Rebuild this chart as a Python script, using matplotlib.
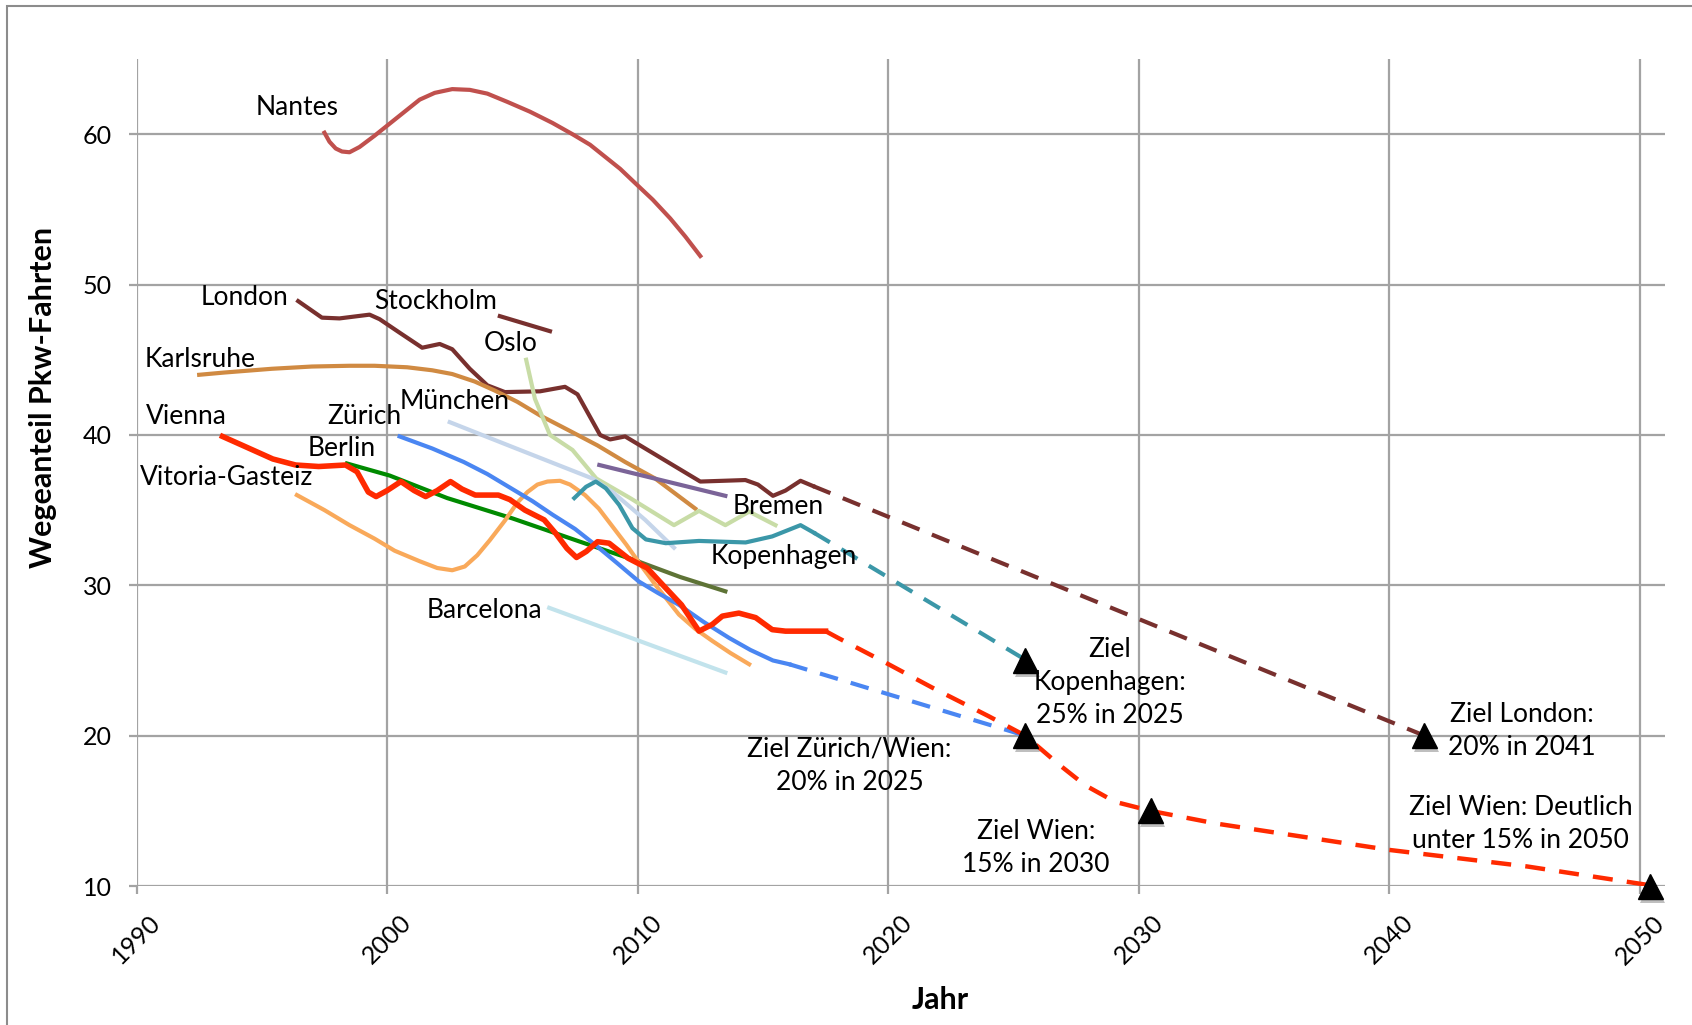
import matplotlib
matplotlib.use("Agg")
import matplotlib.pyplot as plt
import matplotlib.patheffects as pe
from matplotlib.patches import Rectangle

plt.rcParams['font.family'] = ['Lato', 'DejaVu Sans']

# --- data (year, share of car trips in %) ---
nantes_x = [1997.5, 1997.7, 1997.95, 1998.2, 1998.5, 1998.9, 1999.5, 2000.1, 2000.7, 2001.3, 2001.9, 2002.6,
            2003.3, 2004.0, 2004.8, 2005.7, 2006.6, 2007.4, 2008.1, 2008.7, 2009.3, 2009.9, 2010.6, 2011.3,
            2011.9, 2012.5]
nantes_y = [60.1, 59.5, 59.05, 58.85, 58.8, 59.15, 59.9, 60.7, 61.5, 62.3, 62.75, 63.0,
            62.95, 62.7, 62.15, 61.5, 60.75, 60.0, 59.3, 58.5, 57.7, 56.75, 55.65, 54.4,
            53.2, 51.9]

london_x = [1996.45, 1997.4, 1998.1, 1999.3, 1999.7, 2000.5, 2001.4, 2002.1, 2002.6, 2003.3, 2004.0, 2004.7,
            2006.1, 2007.1, 2007.6, 2008.5, 2008.9, 2009.5, 2010.3, 2011.6, 2012.5, 2014.3, 2014.8, 2015.4,
            2015.9, 2016.5, 2017.0]
london_y = [48.9, 47.8, 47.75, 48.0, 47.7, 46.8, 45.8, 46.05, 45.7, 44.4, 43.3, 42.85,
            42.9, 43.2, 42.7, 40.0, 39.7, 39.9, 39.1, 37.8, 36.9, 37.0, 36.7, 35.95,
            36.3, 36.95, 36.6]
london_goal_x = [2017.0, 2041.4]
london_goal_y = [36.6, 20.0]

stockholm_x = [2004.5, 2006.5]
stockholm_y = [47.9, 46.9]

karlsruhe_x = [1992.5, 1993.5, 1995.4, 1997.0, 1998.5, 1999.5, 2000.8, 2001.8, 2002.6, 2003.5, 2004.3,
               2005.2, 2006.1, 2007.2, 2008.4, 2009.5, 2010.7, 2011.5, 2012.3]
karlsruhe_y = [44.0, 44.15, 44.4, 44.55, 44.6, 44.6, 44.5, 44.3, 44.05, 43.55, 42.95,
               42.2, 41.3, 40.35, 39.3, 38.2, 37.1, 36.1, 35.1]

oslo_x = [2005.55, 2005.9, 2006.5, 2007.4, 2008.35, 2009.7, 2011.45, 2012.45, 2013.5, 2014.45, 2015.5]
oslo_y = [45.0, 42.4, 40.0, 39.0, 37.1, 35.8, 34.0, 34.95, 34.0, 34.9, 34.0]

muenchen_x = [2002.5, 2005.0, 2008.2, 2009.0, 2010.3, 2011.45]
muenchen_y = [40.85, 39.2, 37.1, 36.2, 34.35, 32.5]

zuerich_x = [2000.5, 2001.8, 2003.06, 2004.0, 2005.0, 2005.8, 2006.6, 2007.5, 2008.3, 2009.2, 2010.05,
             2010.8, 2011.65, 2012.6, 2013.65, 2014.5, 2015.4, 2016.05]
zuerich_y = [39.9, 39.1, 38.2, 37.4, 36.4, 35.6, 34.7, 33.75, 32.7, 31.45, 30.25,
             29.5, 28.7, 27.6, 26.5, 25.7, 25.0, 24.75]
zuerich_goal_x = [2016.05, 2025.47]
zuerich_goal_y = [24.75, 20.0]

vienna_x = [1993.43, 1994.37, 1995.44, 1996.35, 1997.27, 1998.34, 1998.8, 1999.25, 1999.56, 2000.0,
            2000.55, 2001.08, 2001.54, 2002.0, 2002.53, 2002.99, 2003.52, 2004.44, 2004.9, 2005.5,
            2006.27, 2006.73, 2007.18, 2007.56, 2007.95, 2008.4, 2008.86, 2009.62, 2010.38, 2010.99,
            2011.75, 2012.45, 2012.98, 2013.38, 2014.04, 2014.71, 2015.37, 2015.9, 2017.5]
vienna_y = [39.9, 39.2, 38.4, 38.0, 37.9, 38.0, 37.55, 36.2, 35.9, 36.3,
            36.9, 36.3, 35.9, 36.3, 36.9, 36.4, 36.0, 36.0, 35.7, 35.0,
            34.35, 33.45, 32.45, 31.85, 32.25, 32.9, 32.8, 31.8, 31.15, 30.05,
            28.7, 26.95, 27.4, 27.95, 28.15, 27.85, 27.05, 26.95, 26.95]
vienna_goal_x = [2017.5, 2018.0, 2019.9, 2021.75, 2024.0, 2025.47, 2026.8, 2027.86, 2029.05, 2030.47,
                 2033.1, 2040.0, 2045.5, 2050.4]
vienna_goal_y = [26.95, 26.5, 24.85, 23.2, 21.3, 20.0, 18.1, 16.7, 15.6, 15.0,
                 14.15, 12.4, 11.3, 10.05]

kopenhagen_x = [2007.47, 2007.94, 2008.33, 2008.73, 2009.26, 2009.79, 2010.33, 2011.12, 2012.45, 2014.31,
                2015.37, 2016.5, 2017.03]
kopenhagen_y = [35.8, 36.55, 36.9, 36.45, 35.35, 33.8, 33.05, 32.8, 32.95, 32.85,
                33.25, 34.0, 33.5]
kopenhagen_goal_x = [2017.03, 2025.47]
kopenhagen_goal_y = [33.5, 25.05]

bremen_x = [2008.47, 2013.5]
bremen_y = [38.0, 35.95]

berlin_x = [1998.4, 2000.1, 2002.4, 2005.0, 2007.7, 2010.0]
berlin_y = [38.1, 37.3, 35.8, 34.45, 32.9, 31.6]
berlin2_x = [2010.0, 2011.7, 2013.5]
berlin2_y = [31.6, 30.55, 29.6]

vitoria_x = [1996.4, 1997.5, 1998.5, 1999.5, 2000.3, 2001.3, 2002.0, 2002.6, 2003.1, 2003.6, 2004.1,
             2004.7, 2005.2, 2005.6, 2006.0, 2006.4, 2006.9, 2007.3, 2007.9, 2008.45, 2009.0, 2009.55,
             2010.1, 2010.7, 2011.2, 2011.65, 2012.3, 2012.98, 2013.7, 2014.45]
vitoria_y = [36.0, 35.0, 34.0, 33.1, 32.3, 31.6, 31.15, 31.0, 31.25, 32.0, 33.0,
             34.3, 35.5, 36.2, 36.7, 36.9, 36.95, 36.7, 36.0, 35.1, 33.9, 32.7,
             31.4, 30.05, 29.0, 28.05, 27.1, 26.3, 25.5, 24.75]

barcelona_x = [2006.47, 2013.5]
barcelona_y = [28.5, 24.2]

target_x = [2025.47, 2025.47, 2030.47, 2041.4, 2050.42]
target_y = [25.0, 20.0, 15.0, 20.0, 10.0]

city_labels = ['Nantes', 'London', 'Stockholm', 'Oslo', 'Karlsruhe', 'Vienna', 'Zürich', 'München',
               'Berlin', 'Vitoria-Gasteiz', 'Bremen', 'Kopenhagen', 'Barcelona']
city_label_x = [1996.4, 1994.3, 2001.95, 2004.95, 1992.55, 1992.0, 1999.1, 2002.7,
                1998.2, 1993.6, 2015.6, 2015.85, 2003.9]
city_label_y = [61.8, 49.15, 48.9, 46.1, 45.0, 41.2, 41.2, 42.2,
                39.1, 37.2, 35.25, 31.9, 28.3]

goal_labels = ['Ziel\nKopenhagen:\n25% in 2025', 'Ziel Zürich/Wien:\n20% in 2025', 'Ziel Wien:\n15% in 2030',
               'Ziel London:\n20% in 2041', 'Ziel Wien: Deutlich\nunter 15% in 2050']
goal_label_x = [2028.85, 2018.45, 2025.9, 2045.3, 2045.25]
goal_label_y = [23.55, 18.0, 12.5, 20.3, 14.15]

years = [1990, 2000, 2010, 2020, 2030, 2040, 2050]
shares = [10, 20, 30, 40, 50, 60]

fig = plt.figure(figsize=(16.92, 10.25), dpi=100)
ax = fig.add_axes([0.0807, 0.1356, 0.9033, 0.8068])

lw = 3.0
dash = (4.5, 3.2)
ax.plot(nantes_x, nantes_y, color='#C0504D', lw=lw)
ax.plot(london_x, london_y, color='#78302E', lw=lw)
ax.plot(london_goal_x, london_goal_y, color='#78302E', lw=lw, dashes=dash)
ax.plot(stockholm_x, stockholm_y, color='#78302E', lw=lw)
ax.plot(karlsruhe_x, karlsruhe_y, color='#D08A42', lw=lw)
ax.plot(oslo_x, oslo_y, color='#C8DCA6', lw=lw)
ax.plot(muenchen_x, muenchen_y, color='#C5D5EA', lw=lw)
ax.plot(barcelona_x, barcelona_y, color='#C2E3EC', lw=lw)
ax.plot(bremen_x, bremen_y, color='#7B6498', lw=lw)
ax.plot(berlin_x, berlin_y, color='#008A00', lw=lw)
ax.plot(berlin2_x, berlin2_y, color='#5E7336', lw=lw)
ax.plot(vitoria_x, vitoria_y, color='#F9A95A', lw=lw)
ax.plot(kopenhagen_x, kopenhagen_y, color='#3B97A8', lw=lw)
ax.plot(kopenhagen_goal_x, kopenhagen_goal_y, color='#3B97A8', lw=lw, dashes=dash)
ax.plot(zuerich_x, zuerich_y, color='#4A86F2', lw=lw)
ax.plot(zuerich_goal_x, zuerich_goal_y, color='#4A86F2', lw=lw, dashes=dash)
ax.plot(vienna_x, vienna_y, color='#FF2A00', lw=4.0)
ax.plot(vienna_goal_x, vienna_goal_y, color='#FF2A00', lw=3.2, dashes=dash)

ax.plot(target_x, target_y, ls='none', marker='^', ms=18, color='black', clip_on=False, zorder=5,
        path_effects=[pe.SimplePatchShadow(offset=(1.5, -3), alpha=0.25), pe.Normal()])

for t, x, y in zip(city_labels, city_label_x, city_label_y):
    ax.text(x, y, t, fontsize=19, ha='center', va='center')
for t, x, y in zip(goal_labels, goal_label_x, goal_label_y):
    ax.text(x, y, t, fontsize=19, ha='center', va='center', linespacing=1.4)

ax.set_xlim(1990, 2051)
ax.set_ylim(10, 65)
ax.set_xticks(years)
ax.set_yticks(shares)
ax.grid(True, color='#A3A3A3', lw=1.6)
ax.set_axisbelow(True)
for s in ax.spines.values():
    s.set_visible(False)
ax.tick_params(axis='both', color='#A3A3A3', width=1.6, length=6, labelsize=18)
ax.tick_params(axis='x', pad=12, labelrotation=45)
ax.tick_params(axis='y', pad=12)
ax.set_xlabel('Jahr', fontsize=22, fontweight='bold')
ax.set_ylabel('Wegeanteil Pkw-Fahrten', fontsize=22, fontweight='bold')
ax.xaxis.set_label_coords(0.526, -0.121)
ax.yaxis.set_label_coords(-0.052, 0.591)

fig.patches.append(Rectangle((7 / 1692, -0.1), 1.2, (1019 / 1025) + 0.1, transform=fig.transFigure,
                             fill=False, edgecolor='#8C8C8C', lw=1.5))

fig.savefig('out.png', dpi=100)
